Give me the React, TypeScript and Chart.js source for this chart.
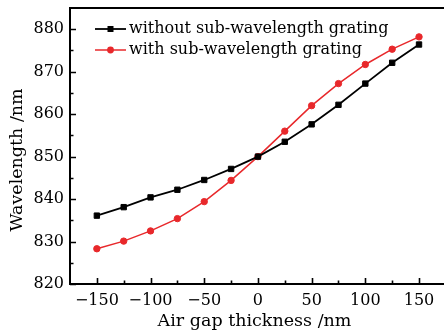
import { useEffect, useRef } from "react";
import { Chart, registerables } from "chart.js";

Chart.register(...registerables);

const airGap = [-150, -125, -100, -75, -50, -25, 0, 25, 50, 75, 100, 125, 150];
const withoutSWG = [836.1, 838.1, 840.4, 842.2, 844.5, 847.1, 850.0, 853.5, 857.6, 862.2, 867.2, 872.1, 876.4];
const withSWG = [828.3, 830.1, 832.5, 835.4, 839.4, 844.4, 850.0, 856.0, 862.0, 867.2, 871.7, 875.3, 878.2];
const xTicks = [-150, -100, -50, 0, 50, 100, 150];
const xMinorTicks = [-125, -75, -25, 25, 75, 125];
const yTicks = [820, 830, 840, 850, 860, 870, 880];
const yMinorTicks = [825, 835, 845, 855, 865, 875];
const seriesNames = ["without sub-wavelength grating", "with sub-wavelength grating"];

const FONT = "'DejaVu Serif', serif";
const RED = "#e8282b";

const framePlugin = {
  id: "frame",
  afterDatasetsDraw(chart: any) {
    const { ctx, chartArea, width } = chart;
    const xs = chart.scales.x;
    const ys = chart.scales.y;
    ctx.save();
    ctx.strokeStyle = "#000";
    ctx.lineWidth = 2;
    ctx.beginPath();
    ctx.moveTo(width + 2, chartArea.top);
    ctx.lineTo(chartArea.left, chartArea.top);
    ctx.lineTo(chartArea.left, chartArea.bottom);
    ctx.lineTo(width + 2, chartArea.bottom);
    ctx.stroke();
    ctx.lineWidth = 1.6;
    ctx.beginPath();
    const b = chartArea.bottom;
    const l = chartArea.left;
    xTicks.forEach((v) => {
      const px = Math.round(xs.getPixelForValue(v)) + 0.5;
      ctx.moveTo(px, b);
      ctx.lineTo(px, b - 6);
    });
    xMinorTicks.forEach((v) => {
      const px = Math.round(xs.getPixelForValue(v)) + 0.5;
      ctx.moveTo(px, b);
      ctx.lineTo(px, b - 3.5);
    });
    yTicks.forEach((v) => {
      const py = Math.round(ys.getPixelForValue(v)) + 0.5;
      ctx.moveTo(l, py);
      ctx.lineTo(l + 6, py);
    });
    yMinorTicks.forEach((v) => {
      const py = Math.round(ys.getPixelForValue(v)) + 0.5;
      ctx.moveTo(l, py);
      ctx.lineTo(l + 3.5, py);
    });
    ctx.stroke();
    ctx.restore();
  },
};

const legendPlugin = {
  id: "insideLegend",
  afterDatasetsDraw(chart: any) {
    const { ctx, chartArea } = chart;
    ctx.save();
    const rows = [29, 50];
    chart.data.datasets.forEach((ds: any, i: number) => {
      const y = rows[i];
      const x0 = chartArea.left + 25;
      const x1 = chartArea.left + 56;
      ctx.strokeStyle = ds.borderColor;
      ctx.lineWidth = ds.borderWidth;
      ctx.beginPath();
      ctx.moveTo(x0, y);
      ctx.lineTo(x1, y);
      ctx.stroke();
      ctx.fillStyle = ds.pointBackgroundColor;
      const cx = (x0 + x1) / 2;
      ctx.beginPath();
      if (ds.pointStyle === "rect") {
        ctx.rect(cx - 3, y - 3, 6, 6);
      } else {
        ctx.arc(cx, y, 3.4, 0, Math.PI * 2);
      }
      ctx.fill();
      ctx.fillStyle = "#000";
      ctx.font = `16px ${FONT}`;
      ctx.textBaseline = "middle";
      ctx.textAlign = "left";
      ctx.fillText(ds.label, chartArea.left + 59, y);
    });
    ctx.restore();
  },
};

const fmt = (v: number) => (v < 0 ? "\u2212" + Math.abs(v) : String(v));

export default function App() {
  const ref = useRef<HTMLCanvasElement | null>(null);
  useEffect(() => {
    document.body.style.margin = "0";
    const chart = new Chart(ref.current as HTMLCanvasElement, {
      type: "line",
      data: {
        datasets: [
          {
            label: seriesNames[0],
            data: airGap.map((x, i) => ({ x, y: withoutSWG[i] })),
            borderColor: "#000",
            backgroundColor: "#000",
            pointBackgroundColor: "#000",
            pointBorderColor: "#000",
            borderWidth: 1.8,
            pointStyle: "rect",
            pointRadius: 3.8,
            pointBorderWidth: 1,
            tension: 0,
          },
          {
            label: seriesNames[1],
            data: airGap.map((x, i) => ({ x, y: withSWG[i] })),
            borderColor: RED,
            backgroundColor: RED,
            pointBackgroundColor: RED,
            pointBorderColor: RED,
            borderWidth: 1.5,
            pointStyle: "circle",
            pointRadius: 3.2,
            pointBorderWidth: 1,
            tension: 0,
          },
        ],
      },
      options: {
        responsive: false,
        animation: false,
        layout: { padding: { top: 8, right: 0, left: 0, bottom: 0 } },
        plugins: { legend: { display: false }, tooltip: { enabled: false } },
        scales: {
          x: {
            type: "linear",
            min: -175,
            max: 168.6,
            afterBuildTicks: (s: any) => {
              s.ticks = xTicks.map((v) => ({ value: v }));
            },
            afterFit: (s: any) => {
              s.height = 48;
              s.paddingLeft = 0;
              s.paddingRight = 0;
            },
            ticks: {
              callback: (v: any) => fmt(Number(v)),
              font: { family: FONT, size: 16 },
              color: "#000",
              padding: 7,
              maxRotation: 0,
            },
            grid: { display: false, drawTicks: false },
            border: { display: false },
            title: {
              display: true,
              text: "Air gap thickness /nm",
              font: { family: FONT, size: 17.5 },
              color: "#000",
              padding: { top: 0, bottom: 0 },
            },
          },
          y: {
            type: "linear",
            min: 820,
            max: 885,
            afterBuildTicks: (s: any) => {
              s.ticks = yTicks.map((v) => ({ value: v }));
            },
            afterFit: (s: any) => {
              s.width = 70;
              s.paddingTop = 0;
              s.paddingBottom = 0;
            },
            ticks: {
              callback: (v: any) => fmt(Number(v)),
              font: { family: FONT, size: 16 },
              color: "#000",
              padding: 6,
            },
            grid: { display: false, drawTicks: false },
            border: { display: false },
            title: {
              display: true,
              text: "Wavelength /nm\u00a0\u00a0\u00a0\u00a0\u00a0",
              font: { family: FONT, size: 17.5 },
              color: "#000",
              padding: { top: 7, bottom: 7 },
            },
          },
        },
      },
      plugins: [framePlugin, legendPlugin],
    } as any);
    return () => chart.destroy();
  }, []);
  return (
    <div style={{ position: "absolute", left: 0, top: 0, width: 444, height: 332 }}>
      <canvas ref={ref} width={444} height={332} style={{ width: 444, height: 332, display: "block" }} />
    </div>
  );
}
